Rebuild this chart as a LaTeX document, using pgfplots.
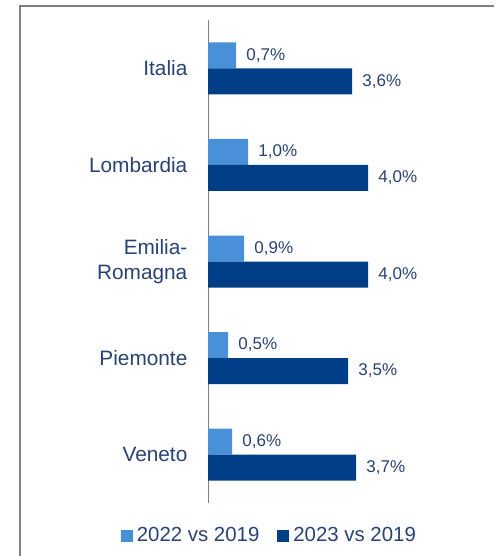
\documentclass[border=0pt]{standalone}
\usepackage{pgfplots}
\pgfplotsset{compat=1.18}
\usepackage{fontspec}
\setmainfont{Liberation Sans}

\definecolor{lightbar}{RGB}{74,144,217}
\definecolor{darkbar}{RGB}{0,63,135}
\definecolor{txt}{RGB}{40,66,118}
\definecolor{frame}{RGB}{128,128,128}

\begin{document}
\begin{tikzpicture}
\useasboundingbox (0,0) rectangle (247pt,278pt);
% outer frame (left and top only)
\draw[frame, line width=1.3pt] (10pt,0pt) -- (10pt,275pt) -- (247pt,275pt);

\begin{axis}[
    at={(104pt,26.5pt)}, anchor=south west,
    scale only axis,
    width=120pt, height=241.5pt,
    xbar, bar width=13pt,
    xmin=0, xmax=6,
    ymin=-0.5, ymax=4.5,
    axis x line=none,
    axis y line=left,
    axis line style={-, draw=frame, line width=0.5pt},
    ytick={0,1,2,3,4},
    yticklabels={Veneto, Piemonte, {Emilia-\\Romagna}, Lombardia, Italia},
    ytick style={draw=none},
    yticklabel style={anchor=east, inner sep=0pt, xshift=-8pt, align=right,
        text=txt, font=\fontsize{10.4}{12.5}\selectfont},
    nodes near coords={\pgfmathprintnumber[fixed, fixed zerofill, precision=1, use comma, assume math mode=true]{\pgfplotspointmeta}\%},
    nodes near coords style={anchor=west, inner sep=0pt, xshift=5pt,
        text=txt, font=\fontsize{8.5}{10}\selectfont},
    clip=false,
    legend columns=2,
    legend style={at={(0.26,-0.068)}, anchor=center, draw=none, fill=none,
        inner sep=0pt, font=\fontsize{10.2}{12}\selectfont, text=txt,
        /tikz/every even column/.append style={column sep=7pt}},
    legend image code/.code={\fill[#1] (0pt,-3pt) rectangle (6pt,3pt);},
]
\addplot[fill=lightbar, draw=none, bar shift=6.5pt] coordinates {
    (0.7,4) (1.0,3) (0.9,2) (0.5,1) (0.6,0)
};
\addlegendentry{2022 vs 2019}
\addplot[fill=darkbar, draw=none, bar shift=-6.5pt] coordinates {
    (3.6,4) (4.0,3) (4.0,2) (3.5,1) (3.7,0)
};
\addlegendentry{2023 vs 2019}
\end{axis}
\end{tikzpicture}
\end{document}
